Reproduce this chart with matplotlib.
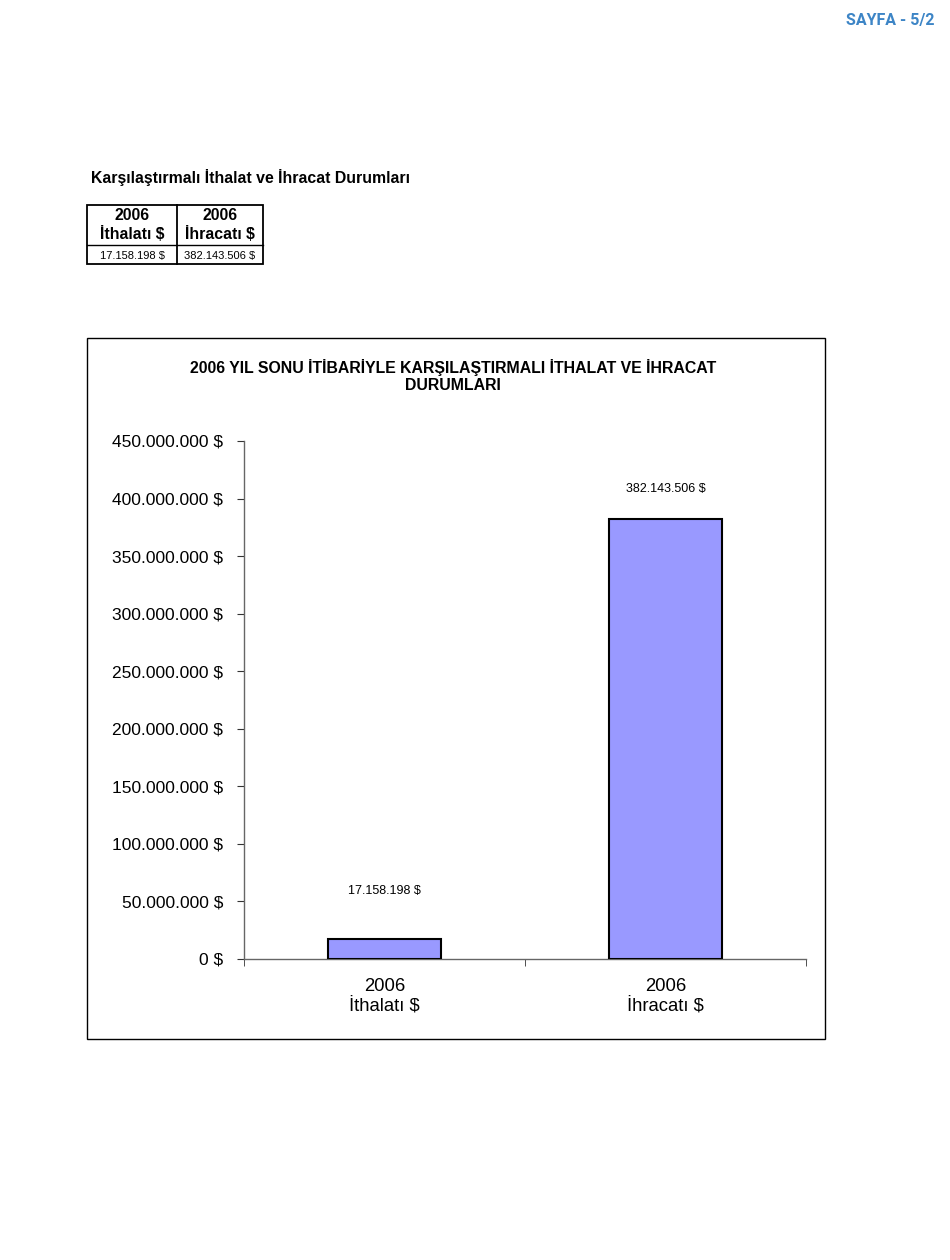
import matplotlib.pyplot as plt
from matplotlib.patches import Rectangle
from matplotlib.ticker import FuncFormatter

plt.rcParams['font.family'] = ['Liberation Sans', 'DejaVu Sans']

# data
kategoriler = ['2006\nİthalatı $', '2006\nİhracatı $']
degerler = [17158198, 382143506]
etiketler = ['17.158.198 $', '382.143.506 $']
etiket_ofset = [35, 21.5]  # points above bar top

tablo_baslik = ['2006\nİthalatı $', '2006\nİhracatı $']
baslik_satirlar = ['2006 YIL SONU İTİBARİYLE KARŞILAŞTIRMALI İTHALAT VE İHRACAT', 'DURUMLARI']

def para(v, pos=None):
    return f"{int(v):,}".replace(",", ".") + " $"

W, H = 950, 1260
fig = plt.figure(figsize=(W / 100, H / 100), dpi=100)

# page layer in pixel coords
pg = fig.add_axes([0, 0, 1, 1])
pg.set_xlim(0, W)
pg.set_ylim(H, 0)
pg.axis('off')

pg.text(935, 20, 'SAYFA - 5/2', ha='right', va='center', fontsize=11.5,
        fontweight='bold', color='#3d85c6', family=['Roboto', 'DejaVu Sans'])

pg.text(91, 177, 'Karşılaştırmalı İthalat ve İhracat Durumları', ha='left', va='center',
        fontsize=11.4, fontweight='bold')

# small table
x0, x1, x2 = 87, 177, 263
y0, y1, y2 = 205, 245, 264
pg.add_patch(Rectangle((x0, y0), x2 - x0, y2 - y0, fill=False, lw=1.3, ec='black'))
pg.plot([x0, x2], [y1, y1], color='black', lw=1.0)
pg.plot([x1, x1], [y0, y2], color='black', lw=1.3)
for cx, hdr, val in zip([(x0 + x1) / 2, (x1 + x2) / 2], tablo_baslik, etiketler):
    pg.text(cx, (y0 + y1) / 2, hdr, ha='center', va='center', fontsize=11.4,
            fontweight='bold', linespacing=1.2)
    pg.text(cx, (y1 + y2) / 2 + 1, val, ha='center', va='center', fontsize=8)

# chart border
pg.add_patch(Rectangle((87, 338), 825 - 87, 1039 - 338, fill=False, lw=1.0, ec='black'))
for yy, satir in zip([368, 385], baslik_satirlar):
    pg.text(453, yy, satir, ha='center', va='center', fontsize=11.4, fontweight='bold')

# bar chart
ax = fig.add_axes([244 / W, 1 - 959 / H, (806 - 244) / W, (959 - 441) / H])
x = list(range(len(degerler)))
bars = ax.bar(x, degerler, width=0.4, color='#9999ff', edgecolor='black', linewidth=1.5, zorder=3)
for b, lab, off in zip(bars, etiketler, etiket_ofset):
    ax.annotate(lab, (b.get_x() + b.get_width() / 2, b.get_height()),
                xytext=(0, off), textcoords='offset points', ha='center', va='center',
                fontsize=9)

ax.set_xlim(-0.5, len(degerler) - 0.5)
ax.set_ylim(0, 450000000)
ax.set_yticks(range(0, 450000001, 50000000))
ax.yaxis.set_major_formatter(FuncFormatter(para))
ax.set_xticks(x)
ax.set_xticklabels(kategoriler, fontsize=13.3, linespacing=1.15)
ax.set_xticks([i - 0.5 for i in range(len(degerler) + 1)], minor=True)
ax.tick_params(axis='x', which='major', length=0, pad=14)
ax.tick_params(axis='x', which='minor', length=5, direction='out', color='#333333')
ax.tick_params(axis='y', length=5, direction='out', pad=10, labelsize=12.5, color='#333333')

for s in ['top', 'right']:
    ax.spines[s].set_visible(False)
for s in ['left', 'bottom']:
    ax.spines[s].set_color('#666666')
    ax.spines[s].set_linewidth(1.0)

fig.savefig('out.png', dpi=100)
